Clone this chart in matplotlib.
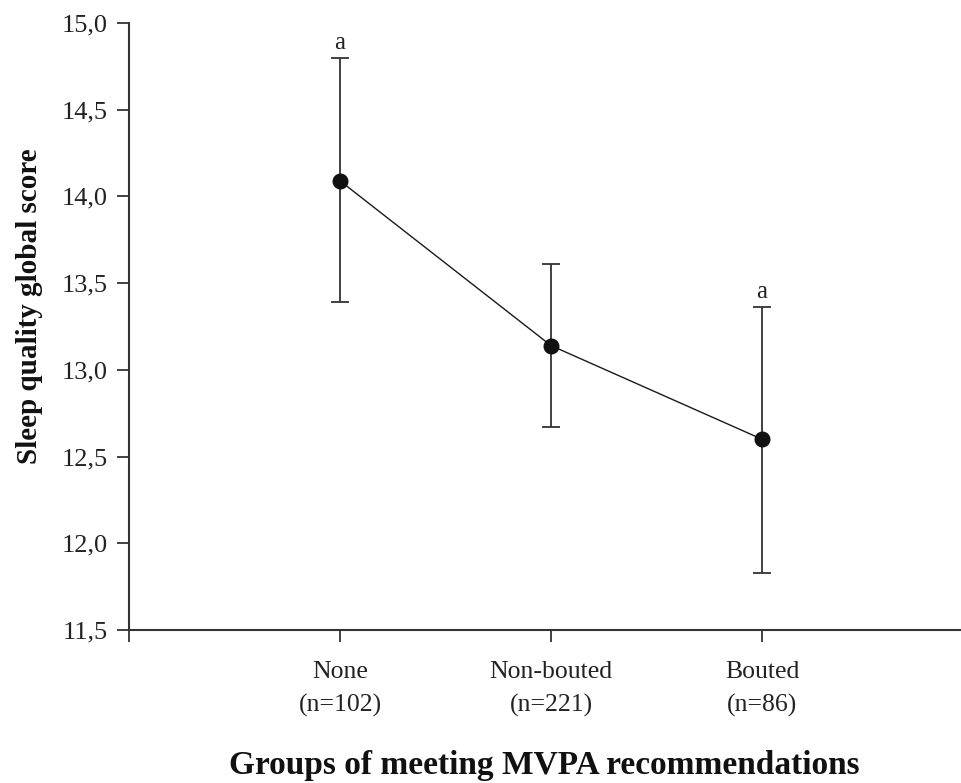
import numpy as np
import matplotlib
matplotlib.use("Agg")
import matplotlib.pyplot as plt
from matplotlib.ticker import FuncFormatter

# values
groups = ["None\n(n=102)", "Non-bouted\n(n=221)", "Bouted\n(n=86)"]
means = [14.09, 13.14, 12.60]
lower = [13.39, 12.67, 11.83]
upper = [14.80, 13.61, 13.36]
letters = ["a", "", "a"]

plt.rcParams['font.family'] = ['Liberation Serif', 'DejaVu Serif']

def main():
    fig = plt.figure(figsize=(9.62, 7.83), dpi=100)
    ax = fig.add_axes([129 / 962, 153 / 783, 833 / 962, 607 / 783])

    x = np.arange(1, len(means) + 1)
    m = np.array(means)
    yerr = [m - np.array(lower), np.array(upper) - m]

    # line + error bars
    ax.errorbar(x, m, yerr=yerr, fmt='-o', color='#1a1a1a', ecolor='#333333',
                elinewidth=1.3, capsize=6.5, capthick=1.3, linewidth=1.0,
                markersize=10.5, markerfacecolor='#111111', markeredgecolor='#111111')

    # significance letters above the upper caps
    for xi, up, lab in zip(x, upper, letters):
        if lab:
            ax.annotate(lab, (xi, up), xytext=(0, 3), textcoords='offset points',
                        ha='center', va='bottom', fontsize=18, color='#222222')

    ax.set_xlim(0, 833 / 211)
    ax.set_ylim(11.5, 15.0)
    ax.set_yticks(np.arange(11.5, 15.01, 0.5))
    ax.yaxis.set_major_formatter(FuncFormatter(lambda v, p: f"{v:.1f}".replace('.', ',')))
    ax.set_xticks([0] + list(x))
    ax.set_xticklabels([""] + groups)
    for t in ax.get_xticklabels():
        t.set_linespacing(1.6)

    ax.spines['top'].set_visible(False)
    ax.spines['right'].set_visible(False)
    for s in ['left', 'bottom']:
        ax.spines[s].set_linewidth(1.5)
        ax.spines[s].set_color('#333333')

    ax.tick_params(axis='y', direction='out', length=8.5, width=1.3, pad=7,
                   labelsize=19, colors='#333333', labelcolor='#222222')
    ax.tick_params(axis='x', direction='out', length=8.5, width=1.3, pad=14,
                   labelsize=18.5, colors='#333333', labelcolor='#222222')

    ax.set_ylabel("Sleep quality global score", fontsize=21, fontweight='bold', color='#111111')
    ax.set_xlabel("Groups of meeting MVPA recommendations", fontsize=24,
                  fontweight='bold', color='#111111')
    ax.yaxis.set_label_coords(-86 / 833, (630 - 306) / 607)
    ax.xaxis.set_label_coords((544 - 129) / 833, -120 / 607)

    fig.savefig("out.png", dpi=100, facecolor='white')

if __name__ == "__main__":
    main()
